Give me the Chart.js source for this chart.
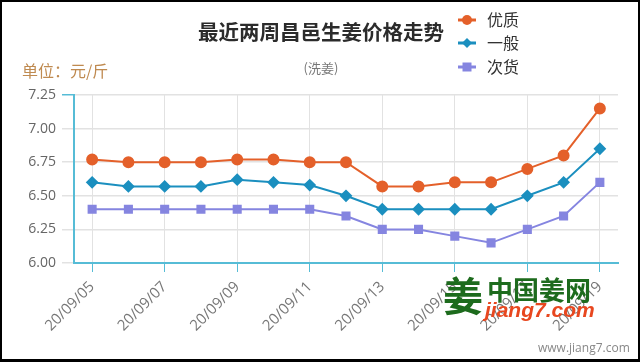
<!DOCTYPE html>
<html>
<head>
<meta charset="utf-8">
<script src="https://cdn.jsdelivr.net/npm/chart.js@4/dist/chart.umd.min.js"></script>
<style>
  html, body { margin: 0; padding: 0; background: #fff; }
  #wrap { position: relative; width: 640px; height: 362px; overflow: hidden; font-family: "Noto Sans CJK SC", "Open Sans", sans-serif; }
  #frame { position: absolute; left: 0; top: 0; width: 640px; height: 362px; box-sizing: border-box;
           border-style: solid; border-color: #000; border-width: 2px 2px 3px 2px; pointer-events: none; }
  .txt { position: absolute; white-space: nowrap; }
  #title { left: 0; width: 642px; top: 16px; text-align: center; font-size: 20.5px; font-weight: bold; color: #2b2b2b; }
  #sub { left: 0; width: 642px; top: 58px; text-align: center; font-size: 13px; color: #777; }
  #unit { left: 22px; top: 58px; font-size: 16px; color: #bf8a50; }
  .leg { position: absolute; left: 458px; width: 80px; height: 20px; white-space: nowrap; }
  .leg canvas { position: absolute; left: 0; top: 0; }
  .leg span { position: absolute; left: 29px; top: -3px; font-size: 16px; color: #333; }
  #logo1 { left: 487px; top: 270px; font-size: 26px; font-weight: bold; color: #1d6b1d; }
  #logo2 { left: 485px; top: 298px; font-size: 21px; font-weight: bold; font-style: italic; color: #e8471f; font-family: "Liberation Sans", Arial, sans-serif; }
  #logoIcon { left: 443px; top: 265px; font-size: 40px; font-weight: bold; color: #1d6b1d; }
  #www { left: 538px; top: 339px; font-size: 12px; color: #888; font-family: "Open Sans", sans-serif; }
</style>
</head>
<body>
<div id="wrap">
  <canvas id="myChart" width="640" height="362"></canvas>
  <div id="title" class="txt">最近两周昌邑生姜价格走势</div>
  <div id="sub" class="txt">(洗姜)</div>
  <div id="unit" class="txt">单位：元/斤</div>
  <div id="legend"></div>
  <div id="logoIcon" class="txt">姜</div>
  <div id="logo1" class="txt">中国姜网</div>
  <div id="logo2" class="txt">jiang7.com</div>
  <div id="www" class="txt">www.jiang7.com</div>
  <div id="frame"></div>
</div>
<script>
var dates = ['20/09/05', '20/09/06', '20/09/07', '20/09/08', '20/09/09', '20/09/10', '20/09/11',
  '20/09/12', '20/09/13', '20/09/14', '20/09/15', '20/09/16', '20/09/17', '20/09/18', '20/09/19'];
var youzhi = [6.77, 6.75, 6.75, 6.75, 6.77, 6.77, 6.75, 6.75, 6.57, 6.57, 6.60, 6.60, 6.70, 6.80, 7.15];
var yiban = [6.60, 6.57, 6.57, 6.57, 6.62, 6.60, 6.58, 6.50, 6.40, 6.40, 6.40, 6.40, 6.50, 6.60, 6.85];
var cihuo = [6.40, 6.40, 6.40, 6.40, 6.40, 6.40, 6.40, 6.35, 6.25, 6.25, 6.20, 6.15, 6.25, 6.35, 6.60];
var seriesNames = ['优质', '一般', '次货'];
var seriesColors = ['#e4602a', '#1b8fbf', '#8585e0'];
var seriesPoints = ['circle', 'rectRot', 'rect'];
var yTicks = [6.00, 6.25, 6.50, 6.75, 7.00, 7.25];

var axisColor = '#56bcd6';
var gridColor = '#e2e2e2';

function makeSet(i, values, radius) {
  return {
    label: seriesNames[i],
    data: values,
    borderColor: seriesColors[i],
    backgroundColor: seriesColors[i],
    pointStyle: seriesPoints[i],
    pointRadius: radius,
    pointHoverRadius: radius,
    borderWidth: 2,
    tension: 0
  };
}

var ctx = document.getElementById('myChart');
var chart = new Chart(ctx, {
  type: 'line',
  data: {
    labels: dates,
    datasets: [makeSet(0, youzhi, 5), makeSet(1, yiban, 5), makeSet(2, cihuo, 5)]
  },
  options: {
    responsive: false,
    animation: false,
    layout: { padding: { top: 95, right: 22, left: 0, bottom: 0 } },
    plugins: { legend: { display: false }, title: { display: false }, tooltip: { enabled: false } },
    scales: {
      x: {
        offset: true,
        border: { color: axisColor, width: 2 },
        grid: {
          color: function(c) { return c.index % 2 === 0 ? gridColor : 'transparent'; },
          tickColor: function(c) { return c.index % 2 === 0 ? axisColor : 'transparent'; },
          tickLength: 9,
          lineWidth: 1
        },
        ticks: {
          autoSkip: false,
          maxRotation: 45,
          minRotation: 45,
          color: '#777',
          padding: 6,
          font: { size: 15, family: 'Open Sans' },
          callback: function(v, i) { return i % 2 === 0 ? dates[i] : ''; }
        },
        afterFit: function(scale) { scale.height = 99; }
      },
      y: {
        min: yTicks[0],
        max: yTicks[yTicks.length - 1],
        afterBuildTicks: function(scale) { scale.ticks = yTicks.map(function(v) { return { value: v }; }); },
        border: { color: axisColor, width: 2 },
        grid: {
          color: gridColor,
          lineWidth: 1.5,
          tickLength: 12,
          tickColor: function(c) { return c.tick && c.tick.value === 7.25 ? axisColor : gridColor; }
        },
        ticks: {
          color: '#666',
          padding: 6,
          font: { size: 14, family: 'Open Sans' },
          callback: function(v) { return Number(v).toFixed(2); }
        },
        afterFit: function(scale) { scale.width = 74; }
      }
    }
  }
});

// legend drawn beside the title
var legend = document.getElementById('legend');
var legendTops = [10, 33, 57];
seriesNames.forEach(function(name, i) {
  var item = document.createElement('div');
  item.className = 'leg';
  item.style.top = legendTops[i] + 'px';
  var c = document.createElement('canvas');
  c.width = 22; c.height = 20;
  var g = c.getContext('2d');
  g.strokeStyle = seriesColors[i];
  g.lineWidth = 3;
  g.beginPath(); g.moveTo(0, 10); g.lineTo(18, 10); g.stroke();
  g.fillStyle = seriesColors[i];
  g.beginPath();
  if (seriesPoints[i] === 'circle') g.arc(9, 10, 5, 0, Math.PI * 2);
  else if (seriesPoints[i] === 'rectRot') { g.moveTo(9, 5); g.lineTo(14, 10); g.lineTo(9, 15); g.lineTo(4, 10); g.closePath(); }
  else g.rect(4.5, 5.5, 9, 9);
  g.fill();
  item.appendChild(c);
  var s = document.createElement('span');
  s.textContent = name;
  item.appendChild(s);
  legend.appendChild(item);
});
</script>
</body>
</html>
